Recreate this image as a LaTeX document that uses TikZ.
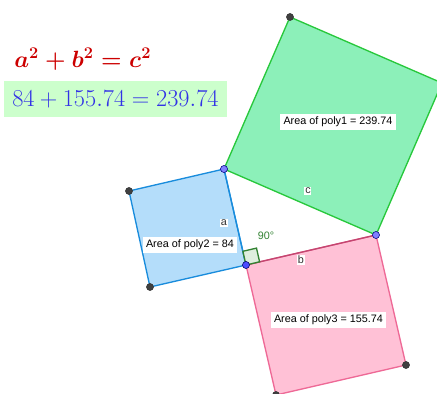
\documentclass[tikz,border=0pt]{standalone}
\usepackage{fontspec}
\newfontfamily\geofont{Liberation Sans}
\usetikzlibrary{calc}

\definecolor{greenfill}{RGB}{140,240,185}
\definecolor{greenline}{RGB}{40,200,60}
\definecolor{bluefill}{RGB}{180,221,250}
\definecolor{blueline}{RGB}{25,140,220}
\definecolor{pinkfill}{RGB}{255,193,214}
\definecolor{pinkline}{RGB}{238,105,150}
\definecolor{sideb}{RGB}{195,70,112}
\definecolor{eqred}{RGB}{204,0,0}
\definecolor{eqblue}{RGB}{50,50,230}
\definecolor{eqbox}{RGB}{204,255,204}
\definecolor{angline}{RGB}{50,130,50}
\definecolor{angfill}{RGB}{222,238,222}

\tikzset{
  arealabel/.style={fill=white,inner sep=2.5pt,font=\geofont\fontsize{8.1}{10}\selectfont},
  sidelabel/.style={fill=white,inner sep=0.6pt,font=\geofont\fontsize{8.1}{10}\selectfont,text=black!80},
  freept/.style={draw=black!80,fill=black!75,circle,inner sep=0pt,minimum size=5.3pt},
  depapt/.style={draw=blue!50!black,fill=blue!50!white,circle,inner sep=0pt,minimum size=5.3pt},
  cornerpt/.style={draw=blue!40!black,fill=blue!70!white,circle,inner sep=0pt,minimum size=5.3pt}
}

\begin{document}
\begin{tikzpicture}[x=0.75pt,y=-0.75pt]
   \clip (0,0) rectangle (437,394);
   \coordinate (C) at (246,265);
   \coordinate (A) at (224,169);
   \coordinate (B) at (376,235);
   \coordinate (c1) at (442,83);
   \coordinate (c2) at (290,17);
   \coordinate (a1) at (129,191);
   \coordinate (a2) at (150,287);
   \coordinate (b1) at (406,365);
   \coordinate (b2) at (276,395);
   % the three squares
   \filldraw[fill=greenfill,draw=greenline,line width=1pt] (A) -- (B) -- (c1) -- (c2) -- cycle;
   \filldraw[fill=bluefill,draw=blueline,line width=1pt] (C) -- (A) -- (a1) -- (a2) -- cycle;
   \filldraw[fill=pinkfill,draw=pinkline,line width=1pt] (C) -- (B) -- (b1) -- (b2) -- cycle;
   \path[-,line width=1pt] (C) edge[draw=sideb] (B) (C) edge[draw=blueline] (A);
   % right angle
   \coordinate (r1) at (242.9,251.3);
   \coordinate (r2) at (256.5,248.1);
   \coordinate (r3) at (259.6,261.8);
   \filldraw[fill=angfill,draw=angline,line width=1pt] (C) -- (r1) -- (r2) -- (r3) -- cycle;
   \node[font=\geofont\fontsize{8.1}{10}\selectfont,text=angline] (ang) at (266,236) {90°};
   % labels
   \node[arealabel] (L1) at (338,122) {Area of poly1 = 239.74};
   \node[arealabel] (L2) at (190,245) {Area of poly2 = 84};
   \node[arealabel] (L3) at (328.5,320) {Area of poly3 = 155.74};
   \node[sidelabel] (la) at (224,223) {a};
   \node[sidelabel] (lb) at (301,260) {b};
   \node[sidelabel] (lc) at (308,191) {c};
   % equations
   \node[anchor=base west,text=eqred,inner sep=0pt,font=\fontsize{18}{22}\selectfont\boldmath] (eq1) at (14,67) {\scalebox{1.02}{$a^2+b^2=c^2$}};
   \node[anchor=base west,fill=eqbox,text=eqblue,inner xsep=6pt,inner ysep=0pt,text height=18.75pt,text depth=8.25pt,font=\fontsize{18}{22}\selectfont] (eq2) at (4,106) {\scalebox{1.055}{$84+155.74=239.74$}};
   % points
   \node[freept] (P1) at (c2) {};
   \node[freept] (P2) at (a1) {};
   \node[freept] (P3) at (a2) {};
   \node[freept] (P4) at (b1) {};
   \node[freept] (P5) at (b2) {};
   \node[depapt] (PA) at (A) {};
   \node[depapt] (PB) at (B) {};
   \node[cornerpt] (PC) at (C) {};
\end{tikzpicture}
\end{document}
